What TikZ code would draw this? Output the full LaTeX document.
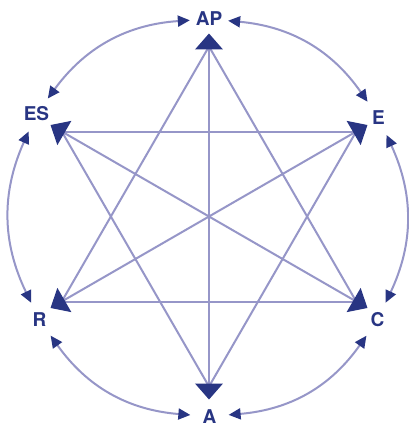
\documentclass[tikz,border=0pt]{standalone}
\usepackage{fontspec}
\setmainfont{TeX Gyre Heros}
\usetikzlibrary{arrows.meta}
\definecolor{navy}{RGB}{40,53,131}
\definecolor{lav}{RGB}{150,150,200}
\begin{document}
\begin{tikzpicture}[x=1pt,y=1pt,
  lbl/.style={circle, minimum size=38pt, inner sep=0pt, font=\bfseries\fontsize{19}{19}\selectfont, text=navy},
  spoke/.style={draw=lav, line width=2pt},
  ring/.style={draw=lav, line width=2pt, {Triangle[length=12pt,width=11pt,color=navy]}-{Triangle[length=12pt,width=11pt,color=navy]}, bend left=25},
  tri/.style={fill=navy}]
\fill[white] (-209,-209.5) rectangle (200,216.5);
\useasboundingbox (-209,-209.5) rectangle (200,216.5);
% labels
\node[lbl] (AP) at (0,197.5) {AP};
\node[lbl] (E) at (169.5,99) {E};
\node[lbl] (C) at (168.5,-103.5) {C};
\node[lbl] (A) at (0.5,-200) {A};
\node[lbl] (R) at (-169.5,-103.5) {R};
\node[lbl] (ES) at (-172.5,102.5) {ES};
% vertices
\coordinate (vAP) at (90:170);
\coordinate (vE) at (30:170);
\coordinate (vC) at (-30:170);
\coordinate (vA) at (-90:170);
\coordinate (vR) at (210:170);
\coordinate (vES) at (150:170);
% spokes
\draw[spoke] (vAP) -- (vR);
\draw[spoke] (vAP) -- (vC);
\draw[spoke] (vAP) -- (vA);
\draw[spoke] (vES) -- (vE);
\draw[spoke] (vES) -- (vC);
\draw[spoke] (vES) -- (vA);
\draw[spoke] (vE) -- (vR);
\draw[spoke] (vE) -- (vA);
\draw[spoke] (vR) -- (vC);
% big triangles
\foreach \a in {90,30,-30,-90,210,150}
  \fill[tri, rotate=\a] (167,-14) -- (183,0) -- (167,14) -- cycle;
% ring arcs
\draw[ring] (AP) to (E);
\draw[ring] (E) to (C);
\draw[ring] (C) to (A);
\draw[ring] (A) to (R);
\draw[ring] (R) to (ES);
\draw[ring] (ES) to (AP);
\end{tikzpicture}
\end{document}
